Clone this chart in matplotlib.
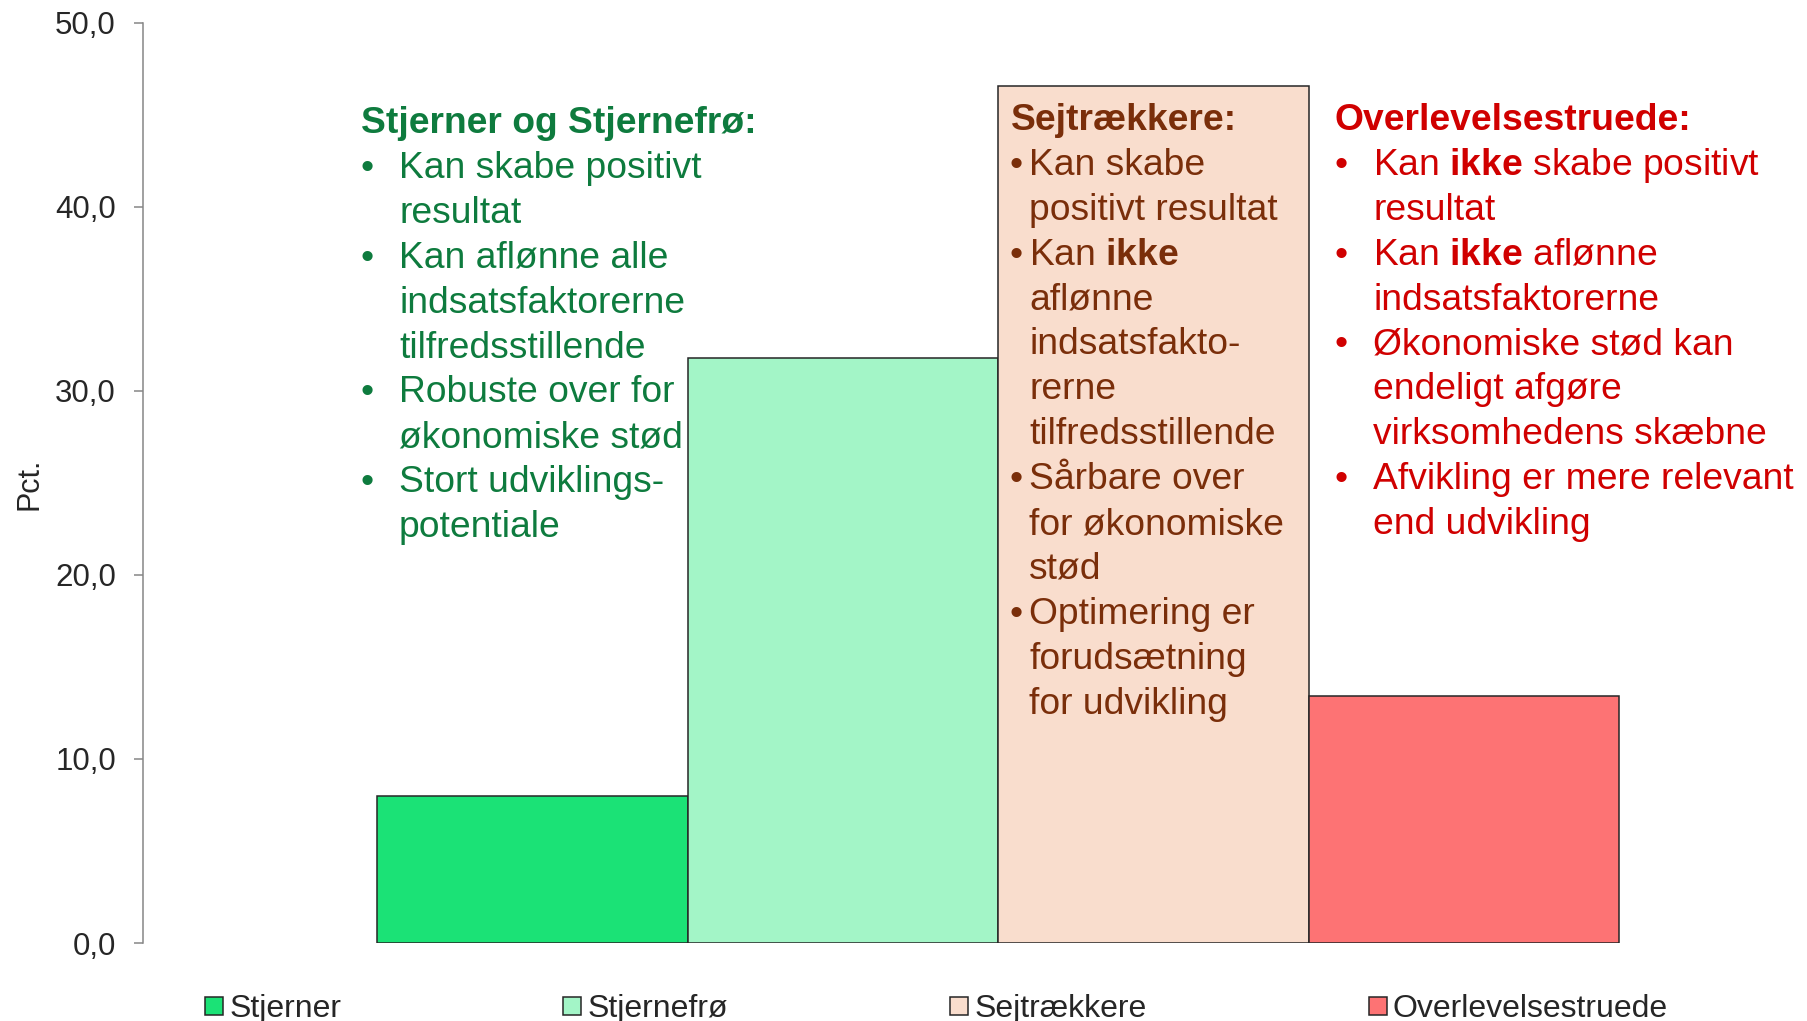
import numpy as np
import matplotlib
matplotlib.use("Agg")
import matplotlib.pyplot as plt

# Data
kategorier = ["Stjerner", "Stjernefrø", "Sejtrækkere", "Overlevelsestruede"]
andele = [8.0, 31.8, 46.6, 13.4]
farver = ["#1be276", "#a3f5c7", "#f9ddcd", "#fd7374"]
y_ticks = [0, 10, 20, 30, 40, 50]
y_labels = ["0,0", "10,0", "20,0", "30,0", "40,0", "50,0"]

# Tekstbokse ($\mathbf{..}$ = fed skrift)
gron_titel = "Stjerner og Stjernefrø:"
gron_punkter = [["Kan skabe positivt", "resultat"],
                ["Kan aflønne alle", "indsatsfaktorerne", "tilfredsstillende"],
                ["Robuste over for", "økonomiske stød"],
                ["Stort udviklings-", "potentiale"]]
brun_titel = "Sejtrækkere:"
brun_punkter = [["Kan skabe", "positivt resultat"],
                [r"Kan $\mathbf{ikke}$", "aflønne", "indsatsfakto-", "rerne",
                 "tilfredsstillende"],
                ["Sårbare over", "for økonomiske", "stød"],
                ["Optimering er", "forudsætning", "for udvikling"]]
rod_titel = "Overlevelsestruede:"
rod_punkter = [[r"Kan $\mathbf{ikke}$ skabe positivt", "resultat"],
               [r"Kan $\mathbf{ikke}$ aflønne", "indsatsfaktorerne"],
               ["Økonomiske stød kan", "endeligt afgøre", "virksomhedens skæbne"],
               ["Afvikling er mere relevant", "end udvikling"]]

plt.rcParams['font.family'] = ['Liberation Sans', 'DejaVu Sans']
plt.rcParams['mathtext.fontset'] = 'custom'
plt.rcParams['mathtext.rm'] = 'Liberation Sans'
plt.rcParams['mathtext.bf'] = 'Liberation Sans:bold'

W, H = 1807, 1021
fig = plt.figure(figsize=(W / 100, H / 100), dpi=100)
ax = fig.add_axes([143 / W, (H - 943) / H, (1790 - 143) / W, (943 - 23) / H])

x = np.arange(len(kategorier))
bars = ax.bar(x, andele, width=1.0, color=farver, edgecolor="#262626",
              linewidth=1.1, label=kategorier, zorder=2)

ax.set_xlim(-1.254, 4.05)
ax.set_ylim(0, 50)
ax.set_yticks(y_ticks)
ax.set_yticklabels(y_labels)
ax.set_xticks([])
for s in ["top", "right", "bottom"]:
    ax.spines[s].set_visible(False)
ax.spines["left"].set_color("#868686")
ax.spines["left"].set_linewidth(1.1)
ax.tick_params(axis="y", length=6.5, width=1.1, color="#868686", pad=13,
               labelsize=22.5, labelcolor="#262626")

fig.text(29 / W, 1 - 484 / H, "Pct.", rotation=90, ha="center", va="center",
         fontsize=22, color="#262626")

FS = 26.8
LH = 44.9


def tekstblok(x_titel, x_punkt, x_tekst, y_titel, titel, punkter, farve):
    fig.text(x_titel / W, 1 - y_titel / H, titel, color=farve, fontsize=FS,
             fontweight="bold", va="baseline")
    y = y_titel
    for punkt in punkter:
        for i, linje in enumerate(punkt):
            y += LH
            if i == 0:
                fig.text(x_punkt / W, 1 - y / H, "\u2022", color=farve,
                         fontsize=FS, va="baseline")
            fig.text(x_tekst / W, 1 - y / H, linje, color=farve, fontsize=FS,
                     va="baseline")


tekstblok(361, 360, 399, 133, gron_titel, gron_punkter, "#0e7b3e")
tekstblok(1011, 1010, 1029, 130, brun_titel, brun_punkter, "#7a2e0a")
tekstblok(1335, 1335, 1373, 130, rod_titel, rod_punkter, "#d00000")

fig.legend(handles=list(bars), labels=kategorier, ncol=4, loc="center left",
           bbox_to_anchor=(205 / W, 1 - 1009 / H), frameon=False, fontsize=23,
           handlelength=0.56, handleheight=0.5, handletextpad=0.2,
           columnspacing=6.95, borderpad=0, borderaxespad=0,
           labelcolor="#262626")

fig.savefig("out.png", dpi=100)
